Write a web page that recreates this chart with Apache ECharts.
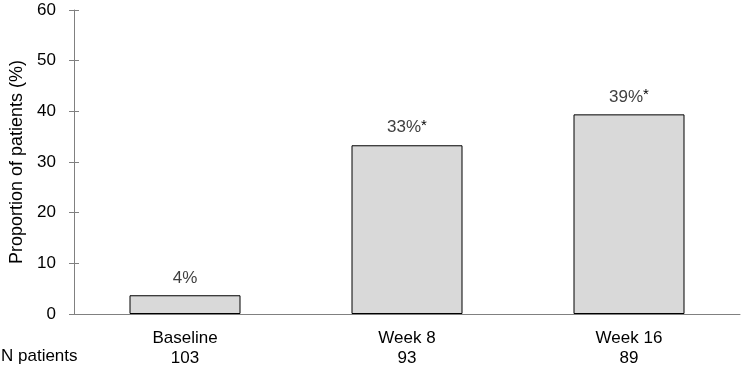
<!DOCTYPE html>
<html>
<head>
<meta charset="utf-8">
<script src="https://cdn.jsdelivr.net/npm/echarts@6/dist/echarts.min.js"></script>
<style>
html,body{margin:0;padding:0;background:#fff;}
#chart{width:743px;height:368px;}
</style>
</head>
<body>
<div id="chart"></div>
<script>
// data
const categories = ['Baseline', 'Week 8', 'Week 16'];
const nPatients = [103, 93, 89];
const proportions = [3.7, 33.3, 39.4];
const barLabels = ['4%', '33%', '39%'];
const significant = [false, true, true];
const yTicks = [0, 10, 20, 30, 40, 50, 60];

const font = 'Liberation Sans, Arial, sans-serif';
const axisGrey = '#808080';
const chart = echarts.init(document.getElementById('chart'));

// shared y scale; second copy only draws the inner half of the cross ticks
const yBase = {
    type: 'value',
    min: yTicks[0],
    max: yTicks[yTicks.length - 1],
    interval: 10,
    position: 'left',
    splitLine: {show: false}
};

const option = {
    animation: false,
    textStyle: {fontFamily: font},
    grid: {left: 71, right: 3, top: 10, bottom: 52, containLabel: false},
    xAxis: {
        type: 'category',
        data: categories.map(function(c, i) { return c + '\n' + nPatients[i]; }),
        axisLine: {lineStyle: {color: axisGrey, width: 1}},
        axisTick: {show: false},
        axisLabel: {color: '#000', fontSize: 17, fontFamily: font, lineHeight: 20, margin: 14}
    },
    yAxis: [
        Object.assign({}, yBase, {
            name: 'Proportion of patients (%)',
            nameLocation: 'middle',
            nameGap: 48,
            nameTextStyle: {color: '#000', fontSize: 18, fontFamily: font},
            axisLine: {show: true, lineStyle: {color: axisGrey, width: 1}},
            axisTick: {show: true, inside: false, length: 5, lineStyle: {color: axisGrey}},
            axisLabel: {color: '#000', fontSize: 17, fontFamily: font, margin: 18}
        }),
        Object.assign({}, yBase, {
            axisLine: {show: false},
            axisTick: {show: true, inside: true, length: 5, lineStyle: {color: axisGrey}},
            axisLabel: {show: false}
        })
    ],
    series: [{
        type: 'bar',
        yAxisIndex: 0,
        barWidth: '50%',
        data: proportions,
        itemStyle: {color: '#d9d9d9', borderColor: '#000', borderWidth: 1},
        label: {
            show: true,
            position: 'top',
            distance: 8,
            formatter: function(p) {
                return '{v|' + barLabels[p.dataIndex] + '}' + (significant[p.dataIndex] ? '{s|*}' : '');
            },
            rich: {
                v: {color: '#404040', fontSize: 17, fontFamily: font},
                s: {color: '#000', fontSize: 15, fontFamily: font, verticalAlign: 'top', padding: [0, 0, 4, 0]}
            }
        }
    }],
    graphic: [{
        type: 'text',
        left: 1,
        top: 348,
        style: {text: 'N patients', fill: '#000', font: '17px ' + font}
    }]
};

chart.setOption(option);
</script>
</body>
</html>
